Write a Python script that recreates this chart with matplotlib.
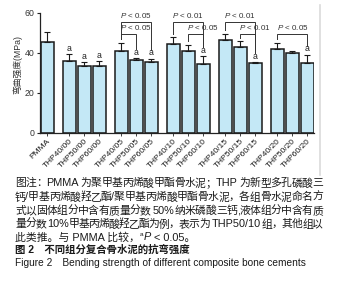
import re
import matplotlib
matplotlib.use('Agg')
import matplotlib.pyplot as plt
from matplotlib.lines import Line2D

plt.rcParams['font.family'] = ['Liberation Sans', 'Noto Sans CJK SC']
plt.rcParams['mathtext.fontset'] = 'custom'
plt.rcParams['mathtext.it'] = 'Liberation Sans:italic'
plt.rcParams['mathtext.rm'] = 'Liberation Sans'

# ---------------- data ----------------
categories = ['PMMA', 'THP40/00', 'THP50/00', 'THP60/00',
              'THP40/05', 'THP50/05', 'THP60/05',
              'THP40/10', 'THP50/10', 'THP60/10',
              'THP40/15', 'THP50/15', 'THP60/15',
              'THP40/20', 'THP50/20', 'THP60/20']
means = [45.3, 35.8, 33.3, 33.7, 41.2, 36.7, 35.5, 44.5, 40.8, 34.7,
         46.3, 42.8, 35.0, 42.2, 40.0, 35.0]
errors = [5.0, 3.7, 2.0, 2.1, 3.8, 0.8, 1.7, 3.3, 3.4, 3.6,
          3.4, 3.0, 0.4, 2.8, 1.2, 4.2]
sig_vs_pmma = [False, True, True, True, False, True, True, False, False, True,
               False, False, True, False, False, True]
bracket_from = [4, 4, 7, 8, 10, 11, 13]
bracket_to = [6, 5, 9, 9, 12, 12, 15]
bracket_level = ['outer', 'inner', 'outer', 'inner', 'outer', 'inner', 'inner']
bracket_p = ['0.05', '0.05', '0.01', '0.05', '0.01', '0.01', '0.05']
yticks = [0, 20, 40, 60]
ylabel = '弯曲强度(MPa)'

caption_lines = [
    '图注：PMMA 为聚甲基丙烯酸甲酯骨水泥；THP 为新型多孔磷酸三',
    '钙/甲基丙烯酸羟乙酯/聚甲基丙烯酸甲酯骨水泥，各组骨水泥命名方',
    '式以固体组分中含有质量分数 50%纳米磷酸三钙,液体组分中含有质',
    '量分数 10%甲基丙烯酸羟乙酯为例，表示为 THP50/10 组，其他组以',
]
caption_last = ['此类推。与 PMMA 比较，', 'a', 'P', ' < 0.05。']
title_cn = '图 2　不同组分复合骨水泥的抗弯强度'
title_en = 'Figure 2　Bending strength of different composite bone cements'

# ---------------- figure ----------------
W, H = 341, 300
fig = plt.figure(figsize=(W / 100, H / 100), dpi=100)
fig.patch.set_facecolor('white')

ax_left, ax_right, ax_top, ax_bot = 40, 314.3, 13, 133
ax = fig.add_axes([ax_left / W, 1 - ax_bot / H, (ax_right - ax_left) / W, (ax_bot - ax_top) / H])

pos = [0.0]
for g in range(5):
    for j in range(3):
        pos.append(1.47 + g * 3.47 + j)

bar_color = '#C4E8F6'
edge = '#1a1a1a'
ax.bar(pos, means, width=0.87, color=bar_color, edgecolor=edge, linewidth=1.1, zorder=2)
ax.errorbar(pos, means, yerr=[[0] * len(errors), errors], fmt='none', ecolor=edge,
            elinewidth=0.8, capsize=2.2, capthick=0.8, zorder=3)

ax.set_xlim(-0.47, 17.82)
ax.set_ylim(0, 60)
ax.set_yticks(yticks)
ax.set_yticklabels([str(v) for v in yticks], fontsize=6.3, color='#333333')
ax.set_xticks(pos)
ax.set_xticklabels(categories, rotation=45, ha='right', rotation_mode='anchor',
                   fontsize=6.0, color='#1a1a1a')
ax.tick_params(axis='y', length=2.5, width=0.8, pad=1.5, colors='#222222', labelcolor='#333333')
ax.tick_params(axis='x', length=2, width=0.6, pad=1.5, colors='#222222', labelcolor='#1a1a1a')
for s in ['top', 'right']:
    ax.spines[s].set_visible(False)
for s in ['left', 'bottom']:
    ax.spines[s].set_linewidth(0.9)
    ax.spines[s].set_color('#222222')

# "a" markers
tops = [m + e for m, e in zip(means, errors)]
for p, t, s in zip(pos, tops, sig_vs_pmma):
    if s:
        ax.text(p, t + 0.7, 'a', ha='center', va='bottom', fontsize=6.3, color='#222222')

# significance brackets
level_y = {'outer': 55.5, 'inner': 49.5}
for i, j, lev, pv in zip(bracket_from, bracket_to, bracket_level, bracket_p):
    y = level_y[lev]
    xi, xj = pos[i], pos[j]
    bi = tops[i] + (4.5 if sig_vs_pmma[i] else 1.8)
    bj = tops[j] + (4.5 if sig_vs_pmma[j] else 1.8)
    ax.plot([xi, xi, xj, xj], [bi, y, y, bj], color='#333333', lw=0.7,
            clip_on=False, zorder=4, solid_joinstyle='miter')
    ax.text(xi - 0.05, y + 0.8, r'$P$ < ' + pv, ha='left', va='bottom',
            fontsize=5.8, color='#333333', clip_on=False)

fig.text(18 / W, 1 - 64 / H, ylabel, rotation=90, ha='center', va='center',
         fontsize=6.3, color='#333333')

# faint vertical border line on right
fig.add_artist(Line2D([320 / W, 320 / W], [1 - 5 / H, 1 - 175 / H],
                      transform=fig.transFigure, color='#dadada', lw=1.2))

# ---------------- caption ----------------
renderer = fig.canvas.get_renderer()
cap_x, cap_r = 15, 323
cap_ys = [183.3, 197.3, 211, 224.3, 237.5]
cap_fs = 7.8
ink = '#1a1a1a'


def text_width(s, **kw):
    t = fig.text(0, 0, s, **kw)
    w = t.get_window_extent(renderer=renderer).width
    t.remove()
    return w


# tokens: latin runs (incl. digits, %, /) kept together, CJK chars separate
tok_re = re.compile(r'[A-Za-z0-9%/.]+| |.')

for line, y in zip(caption_lines, cap_ys):
    toks = tok_re.findall(line)
    widths = []
    for tk in toks:
        if tk == ' ':
            widths.append(text_width('a a', fontsize=cap_fs) - text_width('aa', fontsize=cap_fs))
        else:
            widths.append(text_width(tk, fontsize=cap_fs))
    extra = (cap_r - cap_x - sum(widths)) / max(len(toks) - 1, 1)
    x = cap_x
    for tk, w in zip(toks, widths):
        if tk != ' ':
            fig.text(x / W, 1 - y / H, tk, ha='left', va='center', fontsize=cap_fs, color=ink)
        x += w + extra

x = cap_x
y5 = cap_ys[4]
seg_styles = [dict(fontsize=cap_fs), dict(fontsize=cap_fs * 0.6),
              dict(fontsize=cap_fs, style='italic'), dict(fontsize=cap_fs)]
seg_dy = [0, -3.5, 0, 0]
for s, st, dy in zip(caption_last, seg_styles, seg_dy):
    t = fig.text(x / W, 1 - (y5 + dy) / H, s, ha='left', va='center', color=ink, **st)
    x += t.get_window_extent(renderer=renderer).width

fig.text(cap_x / W, 1 - 249.5 / H, title_cn, ha='left', va='center', fontsize=cap_fs - 0.3,
         fontweight='bold', color=ink)
fig.text(cap_x / W, 1 - 263 / H, title_en, ha='left', va='center', fontsize=7.3,
         color=ink)

fig.savefig('out.png', dpi=100, facecolor='white')
